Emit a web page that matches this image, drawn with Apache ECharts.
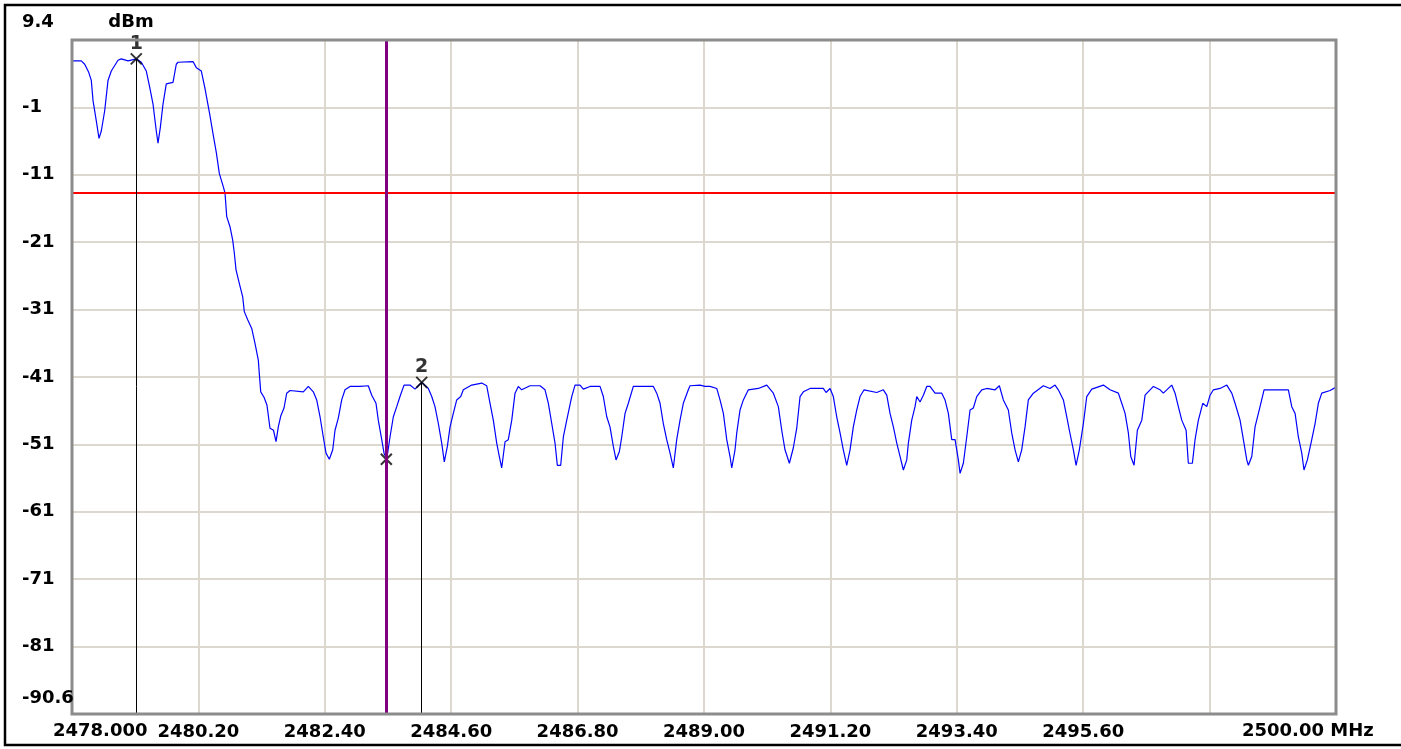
<!DOCTYPE html>
<html><head><meta charset="utf-8">
<script src="https://cdn.jsdelivr.net/npm/echarts@6/dist/echarts.min.js"></script>
<style>html,body{margin:0;padding:0;background:#fff}#c{width:1401px;height:749px}</style>
</head><body><div id="c"></div>
<script>
// ---- data ----
const freqMHz = [
2478.000,2478.162,2478.221,2478.291,2478.336,2478.366,2478.423,2478.470,2478.510,2478.569,
2478.627,2478.684,2478.801,2478.858,2478.975,2479.119,2479.206,2479.293,2479.352,2479.410,
2479.467,2479.497,2479.537,2479.584,2479.641,2479.758,2479.815,2479.845,2480.106,2480.164,
2480.251,2480.310,2480.397,2480.454,2480.512,2480.564,2480.634,2480.663,2480.693,2480.750,
2480.797,2480.825,2480.855,2480.912,2480.971,2480.999,2481.058,2481.128,2481.185,2481.243,
2481.260,2481.285,2481.342,2481.394,2481.446,2481.507,2481.551,2481.591,2481.633,2481.690,
2481.737,2481.794,2482.026,2482.113,2482.200,2482.259,2482.317,2482.374,2482.421,2482.479,
2482.538,2482.578,2482.635,2482.694,2482.752,2482.839,2483.013,2483.157,2483.217,2483.291,
2483.331,2483.391,2483.431,2483.478,2483.535,2483.593,2483.652,2483.709,2483.779,2483.883,
2483.970,2484.087,2484.202,2484.261,2484.318,2484.376,2484.435,2484.480,2484.533,2484.580,
2484.637,2484.696,2484.766,2484.811,2484.957,2485.131,2485.218,2485.276,2485.333,2485.392,
2485.438,2485.479,2485.537,2485.594,2485.654,2485.711,2485.768,2485.827,2485.972,2486.146,
2486.233,2486.291,2486.350,2486.407,2486.447,2486.506,2486.552,2486.611,2486.698,2486.755,
2486.842,2486.900,2487.016,2487.190,2487.248,2487.307,2487.364,2487.422,2487.469,2487.526,
2487.568,2487.626,2487.683,2487.770,2488.118,2488.177,2488.235,2488.292,2488.351,2488.409,
2488.466,2488.525,2488.583,2488.640,2488.727,2488.757,2488.931,2489.018,2489.105,2489.222,
2489.279,2489.337,2489.396,2489.453,2489.483,2489.540,2489.570,2489.627,2489.685,2489.772,
2489.946,2490.092,2490.207,2490.294,2490.353,2490.410,2490.486,2490.555,2490.614,2490.672,
2490.729,2490.846,2491.077,2491.124,2491.194,2491.251,2491.310,2491.368,2491.425,2491.484,
2491.542,2491.599,2491.658,2491.716,2491.786,2492.007,2492.121,2492.181,2492.238,2492.296,
2492.355,2492.413,2492.470,2492.529,2492.557,2492.616,2492.673,2492.703,2492.760,2492.818,
2492.877,2492.934,2493.021,2493.138,2493.195,2493.253,2493.312,2493.370,2493.427,2493.457,
2493.514,2493.573,2493.631,2493.688,2493.747,2493.834,2493.921,2494.066,2494.141,2494.210,
2494.297,2494.356,2494.414,2494.471,2494.530,2494.588,2494.645,2494.733,2494.907,2495.023,
2495.110,2495.167,2495.255,2495.314,2495.359,2495.429,2495.476,2495.533,2495.603,2495.662,
2495.749,2495.951,2496.067,2496.212,2496.271,2496.329,2496.386,2496.428,2496.485,2496.543,
2496.620,2496.677,2496.822,2496.938,2496.995,2497.141,2497.199,2497.256,2497.315,2497.391,
2497.430,2497.500,2497.547,2497.605,2497.681,2497.751,2497.808,2497.866,2497.982,2498.099,
2498.186,2498.243,2498.330,2498.388,2498.447,2498.475,2498.534,2498.591,2498.678,2498.748,
2499.171,2499.230,2499.288,2499.345,2499.404,2499.443,2499.502,2499.578,2499.636,2499.693,
2499.752,2499.897,2500.000
];
const levelDbm = [
6.3,6.3,5.8,4.6,3.4,0.4,-2.6,-5.2,-4.1,-1.1,
3.4,4.8,6.4,6.6,6.3,6.6,6.1,4.8,2.4,-0.1,
-4.1,-5.9,-3.6,-0.1,2.9,3.1,5.8,6.1,6.2,5.3,
4.8,2.4,-1.6,-4.5,-7.3,-10.4,-12.4,-13.3,-16.8,-18.3,
-20.3,-22.2,-24.7,-26.7,-28.7,-30.9,-32.1,-33.4,-35.6,-38.1,
-40.1,-42.8,-43.6,-44.8,-48.2,-48.5,-50.2,-48.0,-46.4,-45.2,
-43.0,-42.6,-42.8,-42.0,-42.8,-44.0,-46.5,-49.5,-51.9,-52.8,
-51.4,-48.5,-46.7,-44.0,-42.5,-42.0,-42.0,-41.9,-43.3,-44.5,
-47.0,-49.9,-51.9,-52.8,-49.5,-46.5,-45.0,-43.5,-41.8,-41.8,
-42.4,-41.4,-42.3,-43.5,-45.0,-47.5,-50.4,-53.2,-50.9,-48.0,
-46.0,-44.0,-43.5,-42.5,-41.8,-41.5,-41.9,-44.5,-47.0,-50.4,
-52.4,-54.1,-50.2,-49.9,-47.0,-43.0,-42.0,-42.5,-41.9,-41.9,
-42.5,-44.5,-47.5,-50.4,-53.7,-53.7,-49.5,-47.0,-43.5,-41.8,
-41.8,-42.4,-42.0,-42.0,-43.5,-46.5,-48.0,-50.9,-52.9,-51.7,
-49.5,-46.0,-44.5,-42.0,-42.0,-43.0,-44.5,-47.5,-49.9,-51.9,
-54.1,-49.9,-47.0,-44.5,-42.5,-41.9,-41.8,-42.0,-42.0,-42.3,
-44.0,-46.0,-49.9,-52.4,-54.1,-51.4,-48.9,-45.5,-44.0,-42.5,
-42.3,-41.8,-43.0,-45.0,-48.5,-51.4,-53.4,-51.1,-48.2,-43.5,
-42.8,-42.3,-42.3,-42.9,-42.3,-43.5,-46.5,-48.9,-51.4,-53.7,
-51.4,-48.0,-45.5,-43.5,-42.5,-42.9,-42.5,-43.3,-46.0,-48.0,
-50.4,-52.4,-54.4,-52.9,-50.4,-47.0,-45.0,-43.5,-44.3,-43.3,
-42.0,-42.0,-43.0,-43.0,-44.0,-46.0,-49.9,-49.9,-52.9,-54.9,
-53.4,-49.5,-45.5,-45.2,-43.5,-42.5,-42.3,-42.5,-41.9,-44.0,
-45.5,-48.9,-51.4,-53.2,-51.4,-48.0,-44.0,-43.0,-41.9,-42.3,
-41.8,-42.5,-44.0,-46.5,-48.5,-51.4,-53.7,-51.4,-47.5,-43.5,
-42.4,-41.8,-42.5,-43.0,-44.5,-46.0,-48.9,-52.4,-53.7,-48.5,
-47.0,-43.3,-42.0,-42.5,-43.0,-41.8,-43.0,-45.0,-47.0,-48.5,
-53.4,-53.4,-49.9,-47.0,-44.5,-45.0,-43.3,-42.5,-42.3,-41.8,
-43.0,-44.5,-47.0,-49.9,-52.9,-53.7,-52.4,-48.0,-45.0,-42.5,
-42.5,-45.0,-46.0,-49.5,-51.9,-54.4,-52.9,-49.9,-47.5,-44.5,
-43.0,-42.6,-42.1
];
const xTickLabels = ['2478.000','2480.20','2482.40','2484.60','2486.80','2489.00','2491.20','2493.40','2495.60','','2500.00 MHz'];
const yTickLabels = ['-90.6','-81','-71','-61','-51','-41','-31','-21','-11','-1','9.4'];
const yUnit = 'dBm';
const markerFreq = [2479.119, 2484.087];
const markerLevel = [6.6, -41.4];
const markerName = ['1', '2'];
const hiddenMarkerFreq = [2483.471];
const hiddenMarkerLevel = [-52.8];
const limitLineDbm = -13.3;
const bandEdgeMHz = 2483.471;
const X_MIN = 2478, X_MAX = 2500, X_STEP = 2.2;
const Y_MIN = -90.6, Y_MAX = 9.4, Y_STEP = 10;

// ---- chart ----
const FONT = 'DejaVu Sans';
const chart = echarts.init(document.getElementById('c'), null, {renderer: 'canvas'});
const trace = freqMHz.map((f, i) => [f, levelDbm[i]]);
const markers = markerFreq.map((f, i) => [f, markerLevel[i]]);
const hiddenMarkers = hiddenMarkerFreq.map((f, i) => [f, hiddenMarkerLevel[i]]);
const labelStyle = {color: '#000', fontFamily: FONT, fontWeight: 'bold', fontSize: 18};
const xSymbol = 'path://M0,0L10,10M10,0L0,10';

const markerLines = markers.map(p => [
  {coord: [p[0], p[1]], lineStyle: {color: '#000', width: 1, type: 'solid'}},
  {coord: [p[0], Y_MIN]}
]);

chart.setOption({
  animation: false,
  backgroundColor: '#fff',
  grid: {left: 72, right: 65, top: 40, bottom: 35, show: false},
  xAxis: {
    type: 'value', min: X_MIN, max: X_MAX, interval: X_STEP,
    axisLine: {show: false}, axisTick: {show: false},
    splitLine: {show: true, lineStyle: {color: '#dcd8d0', width: 2}},
    axisLabel: Object.assign({
      showMinLabel: false, showMaxLabel: false, margin: 9,
      formatter: v => xTickLabels[Math.round((v - X_MIN) / X_STEP)] || ''
    }, labelStyle)
  },
  yAxis: {
    type: 'value', min: Y_MIN, max: Y_MAX, interval: Y_STEP,
    axisLine: {show: false}, axisTick: {show: false},
    splitLine: {show: true, lineStyle: {color: '#dcd8d0', width: 2}},
    axisLabel: Object.assign({
      showMinLabel: false, showMaxLabel: false, margin: 50, align: 'left',
      formatter: v => yTickLabels[Math.round((v - Y_MIN) / Y_STEP)] || ''
    }, labelStyle)
  },
  series: [
    {
      type: 'scatter', data: hiddenMarkers, silent: true, z: 2,
      symbol: xSymbol, symbolSize: 11,
      itemStyle: {color: 'rgba(0,0,0,0)', borderColor: '#000', borderWidth: 2}
    },
    {
      type: 'line', data: trace, showSymbol: false, symbol: 'none', silent: true,
      lineStyle: {color: '#0000ff', width: 1.2}, z: 3,
      markLine: {
        silent: true, symbol: ['none', 'none'], label: {show: false}, animation: false,
        data: [
          {yAxis: limitLineDbm, lineStyle: {color: '#ff0000', width: 2, type: 'solid'}},
          {xAxis: bandEdgeMHz, lineStyle: {color: '#800080', width: 3, type: 'solid'}}
        ].concat(markerLines)
      }
    },
    {
      type: 'scatter', data: markers, silent: true, z: 6,
      symbol: xSymbol, symbolSize: 11,
      itemStyle: {color: 'rgba(0,0,0,0)', borderColor: '#000', borderWidth: 2},
      label: {
        show: true, position: 'top', distance: -1,
        formatter: p => markerName[p.dataIndex],
        color: '#000', fontFamily: FONT, fontWeight: 'bold', fontSize: 19
      }
    }
  ]
});

const tl = chart.convertToPixel({gridIndex: 0}, [X_MIN, Y_MAX]);
const br = chart.convertToPixel({gridIndex: 0}, [X_MAX, Y_MIN]);
const gl = tl[0], gt = tl[1], gr = br[0], gb = br[1];
const txt = (s, x, y, align) => ({
  type: 'text', x: x, y: y, z: 20, silent: true,
  style: {text: s, fill: '#000', font: 'bold 18px "' + FONT + '"', align: align || 'left', verticalAlign: 'middle'}
});
chart.setOption({
  graphic: [
    {type: 'rect', z: 15, silent: true, shape: {x: gl, y: gt, width: gr - gl, height: gb - gt},
     style: {fill: 'none', stroke: '#8c8c8c', lineWidth: 3}},
    {type: 'rect', z: 15, silent: true, shape: {x: 5, y: 5, width: 1410, height: 740},
     style: {fill: 'none', stroke: '#000', lineWidth: 2.5}},
    txt(yTickLabels[yTickLabels.length - 1], gl - 50, gt - 18),
    txt(yUnit, gl + 59, gt - 18, 'center'),
    txt(yTickLabels[0], gl - 50, gb - 16),
    txt(xTickLabels[0], gl - 19, gb + 17),
    txt(xTickLabels[xTickLabels.length - 1], gr - 94, gb + 17)
  ]
});
</script>
</body></html>
